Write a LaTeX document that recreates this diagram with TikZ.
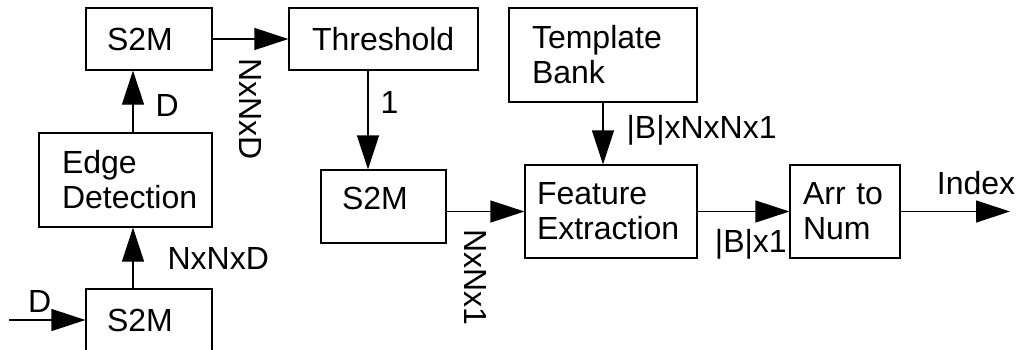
\documentclass[tikz,border=0pt]{standalone}
\usepackage{fontspec}
\setmainfont{Liberation Sans}
\usetikzlibrary{arrows.meta,positioning,calc}

\begin{document}
\begin{tikzpicture}[x=0.5pt,y=-0.5pt,font=\fontsize{16}{17.5}\selectfont]
\tikzstyle{blk}=[draw,line width=0.6pt,align=left,inner ysep=0pt];
\tikzstyle{lbl}=[inner sep=2pt];
\tikzstyle{arr}=[line width=0.6pt,-{Triangle[length=17pt,width=11pt]}];
\useasboundingbox (0,0) rectangle (1018,349);

\node [blk,minimum height=31pt,text width=42pt,inner xsep=10.5pt] (s2mA) at (149,320) {S2M};
\node [blk,minimum height=47pt,text width=63.5pt,inner xsep=11.5pt] (edge) at (125.5,180) {Edge\\Detection};
\node [blk,minimum height=31pt,text width=42pt,inner xsep=10.5pt] (s2mB) at (149,39) {S2M};
\node [blk,minimum height=31pt,text width=71.5pt,inner xsep=11.5pt] (thresh) at (383.5,39) {Threshold};
\node [blk,minimum height=36.5pt,text width=41.5pt,inner xsep=10.5pt,text depth=8.5pt] (s2mC) at (383.5,206.5) {S2M};
\node [blk,minimum height=47pt,text width=71pt,inner xsep=11.5pt] (tmpl) at (603,55) {Template\\Bank};
\node [blk,minimum height=46.5pt,text width=74pt,inner xsep=6pt] (feat) at (611,211.5) {Feature\\Extraction};
\node [blk,minimum height=46.5pt,text width=42pt,inner xsep=6.5pt] (a2n) at (845,211.5) {Arr to\\Num};

\coordinate (in) at (9,320);
\coordinate (out) at (1010,211.5);

\draw [arr] (in) -- (s2mA) node [lbl,pos=0.4,above=1.5pt] (dimIn) {D};
\draw [arr] ([xshift=-8pt]s2mA.north) -- ([xshift=-8pt]s2mA.north |- edge.south)
  node [lbl,midway,right=15pt] (dimA) {NxNxD};
\draw [arr] ([xshift=-8pt]s2mB.south |- edge.north) -- ([xshift=-8pt]s2mB.south)
  node [lbl,pos=0.43,right=9pt] (dimB) {D};
\draw [arr] (s2mB) -- (thresh)
  node [lbl,midway,rotate=-90,anchor=west,inner xsep=9.5pt] (dimC) {NxNxD};
\draw [arr] ([xshift=-7.75pt]thresh.south) -- ([xshift=-7.75pt]thresh.south |- s2mC.north)
  node [lbl,pos=0.325,right=4pt] (dimD) {1};
\draw [arr] (s2mC.east |- feat.west) -- (feat.west)
  node [lbl,pos=0.367,rotate=-90,anchor=west,inner xsep=8.5pt] (dimE) {NxNx1};
\draw [arr] (tmpl.south) -- (tmpl.south |- feat.north)
  node [lbl,pos=0.44,right=9.5pt] (dimF) {|B|xNxNx1};
\draw [arr] (feat) -- (a2n) node [lbl,pos=0.58,below=6.5pt] (dimG) {|B|x1};
\draw [arr] (a2n) -- (out) node [lbl,pos=0.69,above=6.25pt] (idx) {Index};
\end{tikzpicture}
\end{document}
